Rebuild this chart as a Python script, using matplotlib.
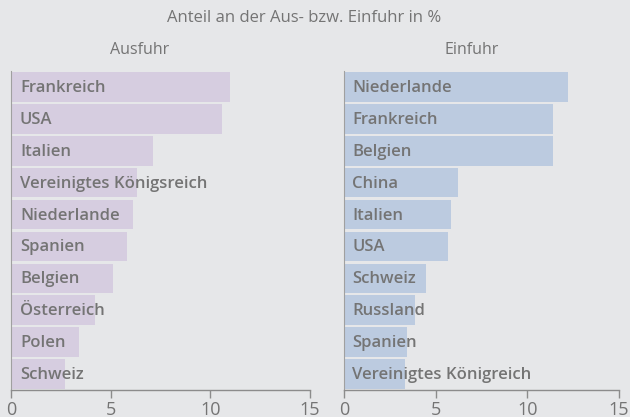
import matplotlib
matplotlib.use("Agg")
import matplotlib.pyplot as plt

plt.rcParams['font.family'] = ['Open Sans', 'DejaVu Sans']

title = "Anteil an der Aus- bzw. Einfuhr in %"
export_label = "Ausfuhr"
import_label = "Einfuhr"

export_countries = ["Frankreich", "USA", "Italien", "Vereinigtes Königsreich", "Niederlande",
                    "Spanien", "Belgien", "Österreich", "Polen", "Schweiz"]
export_values = [11.0, 10.6, 7.1, 6.3, 6.1, 5.8, 5.1, 4.2, 3.4, 2.7]

import_countries = ["Niederlande", "Frankreich", "Belgien", "China", "Italien",
                    "USA", "Schweiz", "Russland", "Spanien", "Vereinigtes Königreich"]
import_values = [12.2, 11.4, 11.4, 6.2, 5.85, 5.7, 4.5, 3.9, 3.45, 3.35]

x_ticks = [0, 5, 10, 15]

BG = "#e6e7e9"
TXT = "#747474"
AX = "#8c8c8c"

fig = plt.figure(figsize=(6.3, 4.17), dpi=100, facecolor=BG)

def panel(rect, names, vals, color):
    ax = fig.add_axes(rect)
    ax.set_facecolor(BG)
    y = list(range(len(names)))
    ax.barh(y, vals, height=0.93, color=color, zorder=2)
    for yi, n in zip(y, names):
        ax.text(0.45, yi + 0.03, n, va="center", ha="left", fontsize=12,
                fontweight="semibold", color=TXT, zorder=3)
    ax.set_xlim(0, 15)
    ax.set_ylim(len(names) - 0.5, -0.5)
    ax.set_yticks([])
    ax.set_xticks(x_ticks)
    ax.set_xticklabels([str(t) for t in x_ticks])
    ax.tick_params(axis="x", length=6, width=1, color=AX, labelcolor=TXT,
                   labelsize=13, pad=2)
    for s in ["top", "right"]:
        ax.spines[s].set_visible(False)
    ax.spines["bottom"].set_color(AX)
    ax.spines["bottom"].set_linewidth(1)
    ax.spines["left"].set_color("#a0a0a0")
    ax.spines["left"].set_linewidth(0.8)
    return ax

H = 417.0
W = 630.0
top_px, bot_px = 71, 390
panel([11 / W, 1 - bot_px / H, 299 / W, (bot_px - top_px) / H],
      export_countries, export_values, "#d6cde0")
panel([344 / W, 1 - bot_px / H, 275 / W, (bot_px - top_px) / H],
      import_countries, import_values, "#bccbe0")

fig.text(304 / W, 1 - 18 / H, title, ha="center", va="center", fontsize=12, color=TXT)
fig.text(140 / W, 1 - 50 / H, export_label, ha="center", va="center", fontsize=11.5, color=TXT)
fig.text(472 / W, 1 - 50 / H, import_label, ha="center", va="center", fontsize=11.5, color=TXT)

fig.savefig("out.png", dpi=100, facecolor=BG)
